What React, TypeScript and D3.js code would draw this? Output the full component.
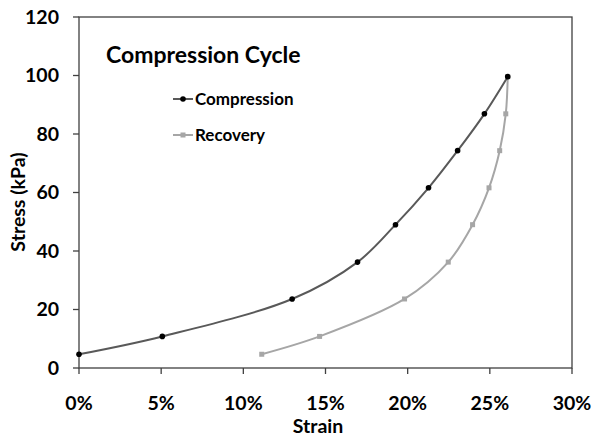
import React from "react";
import * as d3 from "d3";

const compStrain = [0, 5.07, 12.97, 16.95, 19.26, 21.27, 23.04, 24.67, 26.09];
const compStress = [4.7, 10.8, 23.6, 36.2, 49.0, 61.6, 74.3, 86.9, 99.6];
const recStrain = [26.09, 25.97, 25.6, 24.95, 23.95, 22.47, 19.81, 14.64, 11.12];
const recStress = [99.6, 86.9, 74.3, 61.6, 49.0, 36.2, 23.6, 10.8, 4.7];
const xTicks = [0, 5, 10, 15, 20, 25, 30];
const yTicks = [0, 20, 40, 60, 80, 100, 120];

const W = 600, H = 442;
const L = 79, R = 572, T = 17, B = 368;
const FONT = "Lato, 'Open Sans', sans-serif";

export default function App() {
  const x = d3.scaleLinear().domain([0, 30]).range([L, R]);
  const y = d3.scaleLinear().domain([0, 120]).range([B, T]);
  const line = d3
    .line<[number, number]>()
    .x((d) => x(d[0]))
    .y((d) => y(d[1]))
    .curve(d3.curveCatmullRom.alpha(0.5));
  const comp: [number, number][] = compStrain.map((s, i) => [s, compStress[i]]);
  const rec: [number, number][] = recStrain.map((s, i) => [s, recStress[i]]);

  return (
    <svg width={W} height={H} style={{ position: "absolute", left: 0, top: 0, background: "#fff" }} fontFamily={FONT}>
      <rect x={0} y={0} width={W} height={H} fill="#fff" />
      {/* frame */}
      <rect x={L} y={T} width={R - L} height={B - T} fill="none" stroke="#404040" strokeWidth={1.3} />
      {/* ticks */}
      {xTicks.map((t) => (
        <g key={"x" + t}>
          <line x1={x(t)} x2={x(t)} y1={B} y2={B + 6} stroke="#404040" strokeWidth={1.3} />
          <text x={x(t)} y={410} textAnchor="middle" fontSize={19.5} fontWeight="bold" fill="#000">
            {t + "%"}
          </text>
        </g>
      ))}
      {yTicks.map((t) => (
        <g key={"y" + t}>
          <line x1={L - 6} x2={L} y1={y(t)} y2={y(t)} stroke="#404040" strokeWidth={1.3} />
          <text x={59} y={y(t) + 6.5} textAnchor="end" fontSize={19.5} fontWeight="bold" fill="#000">
            {t}
          </text>
        </g>
      ))}
      <text x={318} y={433} textAnchor="middle" fontSize={19.5} fontWeight="bold" fill="#000">
        Strain
      </text>
      <text
        transform={`translate(25, 202) rotate(-90)`}
        textAnchor="middle"
        fontSize={19.5}
        fontWeight="bold"
        fill="#000"
      >
        Stress (kPa)
      </text>
      {/* title */}
      <text x={106} y={63} fontSize={23} fontWeight="bold" fill="#000">
        Compression Cycle
      </text>
      {/* series */}
      <path d={line(rec) || ""} fill="none" stroke="#a6a6a6" strokeWidth={2} />
      <path d={line(comp) || ""} fill="none" stroke="#595959" strokeWidth={2} />
      {rec.map((d, i) => (
        <rect key={"r" + i} x={x(d[0]) - 2.5} y={y(d[1]) - 2.5} width={5} height={5} fill="#a6a6a6" />
      ))}
      {comp.map((d, i) => (
        <circle key={"c" + i} cx={x(d[0])} cy={y(d[1])} r={2.8} fill="#000" />
      ))}
      {/* legend */}
      <line x1={173} x2={193} y1={99} y2={99} stroke="#595959" strokeWidth={2} />
      <circle cx={183} cy={99} r={2.8} fill="#000" />
      <text x={195} y={105} fontSize={17} fontWeight="bold" fill="#000">
        Compression
      </text>
      <line x1={173} x2={193} y1={135} y2={135} stroke="#a6a6a6" strokeWidth={2} />
      <rect x={180.5} y={132.5} width={5} height={5} fill="#a6a6a6" />
      <text x={195} y={141} fontSize={17} fontWeight="bold" fill="#000">
        Recovery
      </text>
    </svg>
  );
}
